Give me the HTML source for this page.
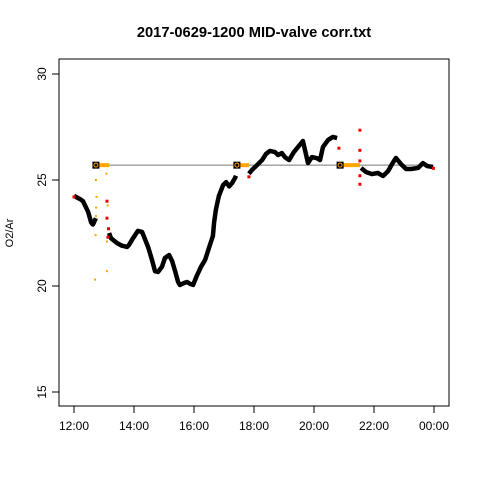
<!DOCTYPE html>
<html><head><meta charset="utf-8"><style>
body{margin:0;background:#fff}
svg text{font-family:"Liberation Sans",Arial,sans-serif;}
</style></head><body>
<svg id="chart" width="480" height="480" xmlns="http://www.w3.org/2000/svg">
<rect width="480" height="480" fill="#fff"/>
<text x="254" y="37" font-size="14.7" font-weight="bold" text-anchor="middle">2017-0629-1200 MID-valve corr.txt</text>
<rect x="59" y="59" width="390" height="347" fill="none" stroke="#000" stroke-width="1"/>
<text transform="translate(13,233) rotate(-90)" font-size="11" text-anchor="middle">O2/Ar</text>
<g id="axes"></g>
<g id="marks"></g>
</svg>
<script>
const yTicks=[15,20,25,30];
const xTicks=[12,14,16,18,20,22,24];
const xTickLabels=["12:00","14:00","16:00","18:00","20:00","22:00","00:00"];
const seg1H=[12.0,12.2,12.3,12.47,12.57,12.63,12.73];
const seg1V=[24.25,24.1,24.0,23.5,23.0,22.9,23.2];
const seg2H=[13.17,13.23,13.43,13.6,13.77,13.83,13.97,14.13,14.27,14.47,14.6,14.7,14.8,14.93,15.03,15.17,15.27,15.37,15.47,15.53,15.67,15.77,15.87,15.97,16.1,16.23,16.37,16.5,16.63,16.67,16.73,16.83,16.97,17.07,17.17,17.27,17.37,17.4];
const seg2V=[22.5,22.26,22.03,21.9,21.84,21.93,22.26,22.6,22.55,21.84,21.23,20.7,20.66,20.9,21.32,21.46,21.18,20.7,20.19,20.05,20.14,20.19,20.1,20.05,20.5,20.9,21.23,21.8,22.36,23.0,23.6,24.25,24.76,24.9,24.7,24.86,25.1,25.2];
const seg3H=[17.83,17.93,18.1,18.27,18.4,18.53,18.7,18.8,18.93,19.03,19.17,19.33,19.63,19.8,19.93,20.1,20.2,20.3,20.47,20.63,20.77];
const seg3V=[25.3,25.47,25.7,25.94,26.23,26.37,26.32,26.18,26.27,26.08,25.94,26.32,26.84,25.8,26.08,26.03,25.94,26.56,26.89,27.03,26.98];
const seg4H=[21.57,21.73,21.93,22.13,22.3,22.47,22.6,22.73,22.9,23.07,23.23,23.47,23.63,23.77,23.97];
const seg4V=[25.57,25.38,25.28,25.33,25.19,25.42,25.75,26.04,25.75,25.52,25.52,25.57,25.8,25.66,25.61];
const refValue=25.7;
const refH=[12.73,17.43,20.87];
const barEndH=[13.17,17.83,21.53];
const orangeH=[12.7,12.72,12.73,12.74,12.75,12.73,13.1,13.1,13.12,13.08];
const orangeV=[20.3,22.4,23.3,23.7,24.2,25.0,20.7,22.1,23.8,25.3];
const redH=[13.1,13.1,13.15,13.13,17.83,20.83,21.53,21.53,21.53,21.53,21.53,23.98,12.0];
const redV=[24.0,23.2,22.7,22.3,25.15,26.5,27.35,26.4,25.9,25.2,24.8,25.55,24.2];

const NS="http://www.w3.org/2000/svg";
const X=h=>74+(h-12)*30;
const Y=v=>180-(v-25)*21.2;
function mk(tag,attrs,parent){const e=document.createElementNS(NS,tag);for(const k in attrs)e.setAttribute(k,attrs[k]);parent.appendChild(e);return e;}
const axes=document.getElementById('axes'),marks=document.getElementById('marks');
yTicks.forEach(t=>{
  const l=mk('line',{x1:52,x2:59,y1:Y(t),y2:Y(t),stroke:'#000'},axes);
  
  
  const tx=mk('text',{transform:`translate(46,${Y(t)}) rotate(-90)`,'font-size':12,'text-anchor':'middle'},axes);
  tx.textContent=t;
  
  
});
xTicks.forEach((t,i)=>{
  const l=mk('line',{x1:X(t),x2:X(t),y1:406,y2:413,stroke:'#000'},axes);
  
  
  const tx=mk('text',{x:X(t),y:430,'font-size':12,'text-anchor':'middle'},axes);
  tx.textContent=xTickLabels[i];
  
  
});
const ref=mk('line',{x1:X(refH[0]),x2:X(seg4H[seg4H.length-1]),y1:Y(refValue),y2:Y(refValue),stroke:'#777','stroke-width':1},marks);


refH.forEach((h,i)=>{
  const b=mk('line',{x1:X(h),x2:X(barEndH[i]),y1:Y(refValue),y2:Y(refValue),stroke:'#FFA500','stroke-width':4},marks);
  
  
});
[[seg1H,seg1V],[seg2H,seg2V],[seg3H,seg3V],[seg4H,seg4V]].forEach(([hs,vs])=>{
  const p=mk('polyline',{points:hs.map((h,i)=>X(h)+','+Y(vs[i])).join(' '),fill:'none',stroke:'#000','stroke-width':4.5,'stroke-linejoin':'round'},marks);
  
  
});
orangeH.forEach((h,i)=>{
  const r=mk('rect',{x:X(h)-1,y:Y(orangeV[i])-1,width:2,height:2,fill:'#FFA500'},marks);
  
  
});
redH.forEach((h,i)=>{
  const r=mk('rect',{x:X(h)-1.5,y:Y(redV[i])-1.5,width:3,height:3,fill:'#e00'},marks);
  
  
});
refH.forEach(h=>{
  const s=mk('rect',{x:X(h)-3.5,y:Y(refValue)-3.5,width:7,height:7,fill:'#000'},marks);
  
  
  const c=mk('circle',{cx:X(h),cy:Y(refValue),r:2,fill:'none',stroke:'#FFA500','stroke-width':1},marks);
  
  
});
</script>
</body></html>
